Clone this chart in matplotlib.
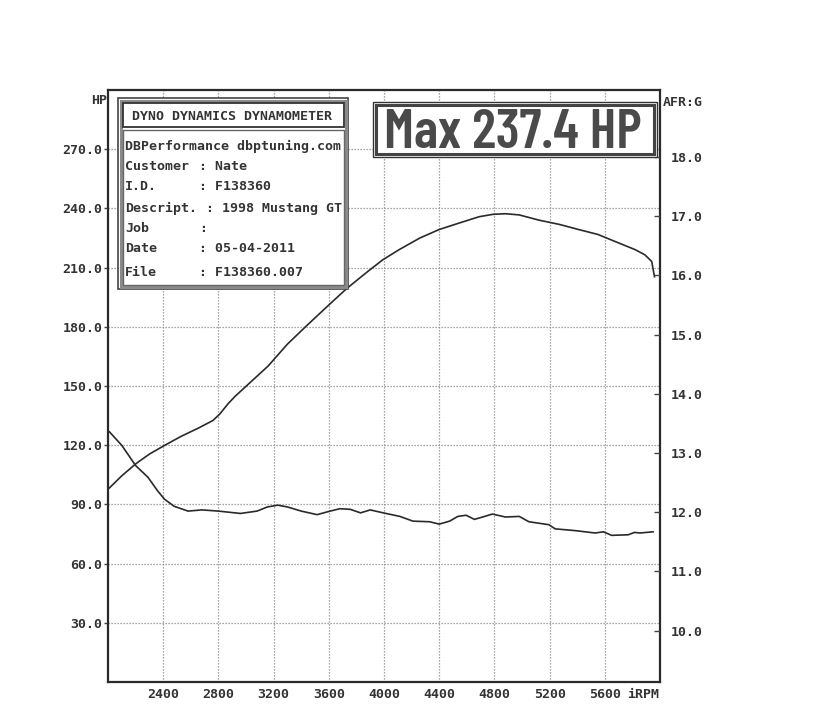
import matplotlib
matplotlib.use('Agg')
import matplotlib.pyplot as plt
from matplotlib.patches import Rectangle
import matplotlib.font_manager as fm

# ---------------- data ----------------
rpm_hp = [2005, 2100, 2200, 2300, 2410, 2530, 2650, 2760, 2810, 2870, 2920, 3040,
          3160, 3300, 3440, 3610, 3730, 3880, 3990, 4110, 4260, 4400, 4550, 4690,
          4790, 4880, 4980, 5120, 5270, 5410, 5550, 5700, 5820, 5890, 5940, 5960]
hp = [98.0, 104.5, 110.5, 115.5, 119.9, 124.5, 128.5, 132.5, 135.8, 141.0, 144.7, 152.4,
      160.1, 171.2, 180.6, 191.7, 199.4, 207.9, 213.9, 219.1, 225.0, 229.3, 232.7, 235.8,
      237.0, 237.3, 236.7, 234.1, 231.9, 229.3, 226.8, 222.5, 219.1, 216.5, 213.1, 205.4]

rpm_afr = [2010, 2100, 2200, 2290, 2360, 2410, 2480, 2580, 2680, 2800, 2960, 3080,
           3155, 3230, 3300, 3400, 3515, 3610, 3680, 3755, 3830, 3900, 3995, 4115,
           4210, 4330, 4400, 4475, 4535, 4595, 4655, 4715, 4785, 4880, 4980, 5050,
           5195, 5240, 5385, 5530, 5590, 5650, 5770, 5815, 5855, 5950]
afr = [13.36, 13.13, 12.79, 12.59, 12.36, 12.22, 12.10, 12.02, 12.04, 12.02, 11.98, 12.02,
       12.09, 12.12, 12.09, 12.02, 11.96, 12.02, 12.06, 12.05, 11.99, 12.04, 11.99, 11.93,
       11.85, 11.84, 11.80, 11.85, 11.93, 11.95, 11.88, 11.92, 11.97, 11.92, 11.93, 11.84,
       11.79, 11.72, 11.69, 11.65, 11.67, 11.61, 11.62, 11.66, 11.65, 11.67]

rpm_ticks = [2400, 2800, 3200, 3600, 4000, 4400, 4800, 5200, 5600]
hp_ticks = [30, 60, 90, 120, 150, 180, 210, 240, 270]
afr_ticks = [10, 11, 12, 13, 14, 15, 16, 17, 18]

title = 'DYNO DYNAMICS DYNAMOMETER'
header = 'DBPerformance dbptuning.com'
info_keys = ['Customer', 'I.D.', 'Descript.', 'Job', 'Date', 'File']
info_vals = ['Nate', 'F138360', '1998 Mustang GT', '', '05-04-2011', 'F138360.007']
max_label = 'Max 237.4 HP'

# ---------------- layout ----------------
W, H = 823, 720
MONO = 'DejaVu Sans Mono'
TXT = '#333333'
fig = plt.figure(figsize=(W / 100, H / 100), dpi=100)
fig.patch.set_facecolor('white')

L, R, T, B = 108, 660, 90, 682
ax = fig.add_axes([L / W, 1 - B / H, (R - L) / W, (B - T) / H])
ax.set_xlim(2000, 6000)
ax.set_ylim(0, 300)

ax.plot(rpm_hp, hp, color='#2a2a2a', lw=1.2, zorder=3)

for s in ax.spines.values():
    s.set_linewidth(1.6)
    s.set_color('#2a2a2a')

ax.set_xticks(rpm_ticks)
ax.set_xticklabels([str(v) for v in rpm_ticks], fontfamily=MONO, fontsize=9.5,
                   fontweight='bold', color=TXT)
ax.set_yticks(hp_ticks)
ax.set_yticklabels([f'{v:.1f}' for v in hp_ticks], fontfamily=MONO, fontsize=9.5,
                   fontweight='bold', color=TXT)
ax.tick_params(axis='x', length=0, pad=4)
ax.tick_params(axis='y', direction='out', length=3, width=1, pad=1, color='#444')
ax.grid(True, color='#8a8a8a', lw=0.9, linestyle=(0, (1, 1.4)))
ax.set_axisbelow(True)

tw = ax.twinx()
tw.set_ylim(9.133, 19.133)
tw.plot(rpm_afr, afr, color='#2a2a2a', lw=1.2, zorder=3)
tw.set_yticks(afr_ticks)
tw.set_yticklabels([f'{v:.1f}' for v in afr_ticks], fontfamily=MONO, fontsize=9.5,
                   fontweight='bold', color=TXT)
tw.tick_params(axis='y', direction='in', length=4, width=1, pad=8, color='#444')
for s in tw.spines.values():
    s.set_visible(False)


def fx(x):
    return x / W


def fy(y):
    return 1 - y / H


def rect(x0, y0, x1, y1, z=5, **kw):
    r = Rectangle((fx(x0), fy(y1)), (x1 - x0) / W, (y1 - y0) / H,
                  transform=fig.transFigure, zorder=z, **kw)
    fig.add_artist(r)


def ftext(x, y, s, **kw):
    kw.setdefault('fontfamily', MONO)
    kw.setdefault('fontsize', 9.5)
    kw.setdefault('fontweight', 'bold')
    kw.setdefault('color', TXT)
    kw.setdefault('zorder', 8)
    return fig.text(fx(x), fy(y), s, **kw)


# axis captions
ftext(107, 100, 'HP', ha='right', va='center')
ftext(663, 103, 'AFR:G', ha='left', va='center')
ftext(659, 694, 'iRPM', ha='right', va='center')

# info box
rect(118, 98, 348, 289, facecolor='white', edgecolor='#444444', lw=1.2)
rect(120.5, 100.5, 345.5, 286.5, facecolor='none', edgecolor='#8a8a8a', lw=2.2, z=6)
rect(122.5, 103, 344, 126.5, facecolor='white', edgecolor='#333333', lw=1.3, z=6)
rect(122.5, 130.5, 344, 285, facecolor='white', edgecolor='#666666', lw=1.0, z=6)
ftext(232, 116, title, ha='center', va='center')
ftext(125, 146.5, header, ha='left', va='center')
ys = [166.5, 187, 208.5, 228, 248.5, 273]
for k, v, y in zip(info_keys, info_vals, ys):
    ftext(125, y, k, ha='left', va='center')
    cx = 206 if k == 'Descript.' else 199
    ftext(cx, y, ': ' + v if v else ':', ha='left', va='center')

# max box
rect(373, 102, 657, 157, facecolor='white', edgecolor='#333333', lw=1.0)
rect(376, 105, 654, 154, facecolor='none', edgecolor='#444444', lw=2.2, z=6)

names = {f.name for f in fm.fontManager.ttflist}
if 'Barlow Condensed' in names:
    mfam, mstretch = ['Barlow Condensed', 'DejaVu Sans'], 'normal'
else:
    mfam, mstretch = ['DejaVu Sans'], 'condensed'
mt = ftext(512.5, 133, max_label, ha='center', va='center', fontsize=36,
           fontfamily=mfam, fontstretch=mstretch, fontweight='semibold', color='#4a4a4a')
# fit width of the big label to the box interior
fig.canvas.draw()
ext = mt.get_window_extent(renderer=fig.canvas.get_renderer())
target_w = 262.0
size = 36 * target_w / ext.width
size = min(size, 40)
mt.set_fontsize(size)

fig.savefig('out.png', dpi=100, facecolor='white')
